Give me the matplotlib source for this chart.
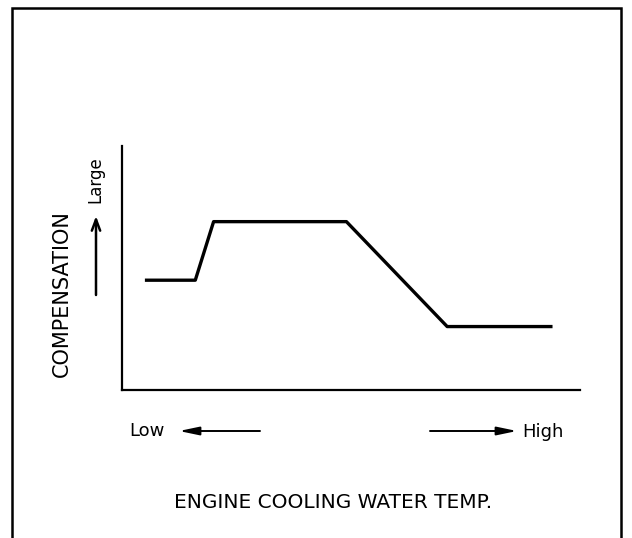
import matplotlib
matplotlib.use("Agg")
import matplotlib.pyplot as plt
from matplotlib.patches import Rectangle, FancyArrowPatch

plt.rcParams['font.family'] = ['DejaVu Sans']

# Coolant temperature (relative scale, low -> high) and compensation amount
temp = [5, 16, 20, 49, 71, 94]
compensation = [45, 45, 69, 69, 26, 26]

x_label = "ENGINE COOLING WATER TEMP."
y_label = "COMPENSATION"
low_label, high_label, large_label = "Low", "High", "Large"

W, H = 632, 538
fig = plt.figure(figsize=(W / 100, H / 100), dpi=100)
fig.patch.set_facecolor("white")

# outer frame (open at the bottom)
frame = Rectangle((12 / W, -0.05), (621 - 12) / W, 1.05 - 8 / H,
                  transform=fig.transFigure, fill=False, edgecolor="black",
                  linewidth=1.8)
fig.patches.append(frame)

ax = fig.add_axes([122 / W, (H - 390) / H, 458 / W, 244 / H])
ax.plot(temp, compensation, color="black", linewidth=2.4, solid_capstyle="butt")
ax.set_xlim(0, 100)
ax.set_ylim(0, 100)
for s in ("top", "right"):
    ax.spines[s].set_visible(False)
for s in ("left", "bottom"):
    ax.spines[s].set_linewidth(1.6)
ax.set_xticks([])
ax.set_yticks([])

def fx(px):
    return px / W

def fy(py):
    return 1 - py / H

def arrow(p0, p1, style, lw):
    fig.patches.append(FancyArrowPatch((fx(p0[0]), fy(p0[1])), (fx(p1[0]), fy(p1[1])),
                                       transform=fig.transFigure, arrowstyle=style,
                                       shrinkA=0, shrinkB=0,
                                       color="black", linewidth=lw))

# vertical axis label and "Large" arrow
fig.text(fx(62), fy(294), y_label, rotation=90, ha="center", va="center",
         fontsize=15)
fig.text(fx(95), fy(180), large_label, rotation=90, ha="center", va="center",
         fontsize=12)
arrow((96, 295), (96, 216), "->,head_length=8,head_width=3", 1.8)

# horizontal direction labels
fig.text(fx(129), fy(431), low_label, ha="left", va="center", fontsize=13)
arrow((260, 431), (179, 431), "-|>,head_length=12,head_width=2.5", 1.4)
fig.text(fx(522), fy(432), high_label, ha="left", va="center", fontsize=13)
arrow((430, 431), (517, 431), "-|>,head_length=12,head_width=2.5", 1.4)

fig.text(fx(333), fy(503), x_label, ha="center", va="center", fontsize=14.5)

fig.savefig("out.png", dpi=100)
